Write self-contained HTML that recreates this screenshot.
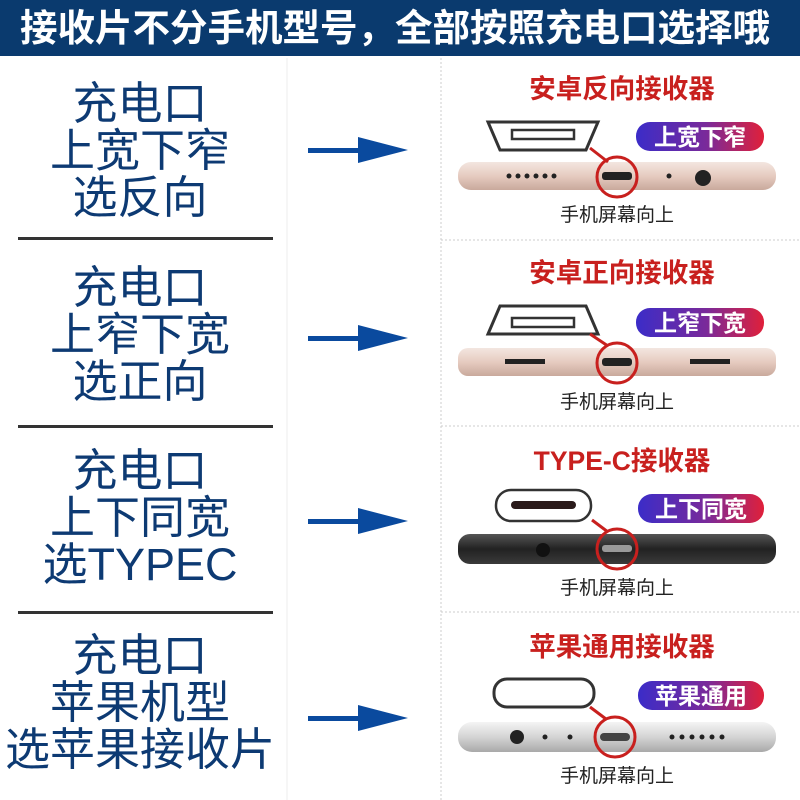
<!DOCTYPE html>
<html><head><meta charset="utf-8"><style>
html,body{margin:0;padding:0;background:#fff;}
svg{display:block}
</style></head><body>
<svg width="800" height="800" viewBox="0 0 800 800" xmlns="http://www.w3.org/2000/svg" font-family="'Liberation Sans','Noto Sans CJK SC',sans-serif">
<defs>
<linearGradient id="pill" x1="0" x2="1" y1="0" y2="0">
<stop offset="0" stop-color="#3b2cc8"/><stop offset="0.55" stop-color="#7a2a9a"/><stop offset="1" stop-color="#e0203a"/></linearGradient>
<linearGradient id="gold" x1="0" x2="0" y1="0" y2="1">
<stop offset="0" stop-color="#f3e6e0"/><stop offset="0.5" stop-color="#e6cbc0"/><stop offset="1" stop-color="#c9a99c"/></linearGradient>
<linearGradient id="dark" x1="0" x2="0" y1="0" y2="1">
<stop offset="0" stop-color="#555"/><stop offset="0.5" stop-color="#222"/><stop offset="1" stop-color="#3a3a3a"/></linearGradient>
<linearGradient id="silver" x1="0" x2="0" y1="0" y2="1">
<stop offset="0" stop-color="#f4f4f4"/><stop offset="0.5" stop-color="#d4d4d4"/><stop offset="1" stop-color="#a9a9a9"/></linearGradient>
</defs>
<rect width="800" height="800" fill="#fff"/>
<rect width="800" height="56" fill="#0a3a6e"/>
<text x="20" y="41" font-size="37.5" font-weight="bold" fill="#fff">接收片不分手机型号，全部按照充电口选择哦</text>

<g fill="#0d3a73" font-size="45" text-anchor="middle">
<text x="140" y="119">充电口</text><text x="140" y="166">上宽下窄</text><text x="140" y="213">选反向</text>
<text x="140" y="303">充电口</text><text x="140" y="350">上窄下宽</text><text x="140" y="397">选正向</text>
<text x="140" y="486">充电口</text><text x="140" y="533">上下同宽</text><text x="140" y="580">选TYPEC</text>
<text x="140" y="671">充电口</text><text x="140" y="718">苹果机型</text><text x="140" y="765">选苹果接收片</text>
</g>
<g fill="#333"><rect x="18" y="237" width="255" height="3"/><rect x="18" y="425" width="255" height="3"/><rect x="18" y="611" width="255" height="3"/></g>

<g fill="#0a4a9e">
<rect x="308" y="148" width="55" height="5"/><polygon points="358,137 408,150 358,163"/>
<rect x="308" y="336" width="55" height="5"/><polygon points="358,325 408,338 358,351"/>
<rect x="308" y="519" width="55" height="5"/><polygon points="358,508 408,521 358,534"/>
<rect x="308" y="716" width="55" height="5"/><polygon points="358,705 408,718 358,731"/>
</g>
<line x1="287" y1="58" x2="287" y2="800" stroke="#eee"/>
<g stroke="#ccc" stroke-dasharray="2,2" fill="none">
<line x1="441" y1="58" x2="441" y2="800"/>
<line x1="441" y1="240" x2="800" y2="240"/><line x1="441" y1="426" x2="800" y2="426"/><line x1="441" y1="612" x2="800" y2="612"/>
</g>

<!-- panel 1 -->
<g transform="translate(0,58)">
<text x="622" y="40" font-size="26.5" font-weight="bold" fill="#c8201e" text-anchor="middle">安卓反向接收器</text>
<polygon points="488,64 598,64 586,92 500,92" fill="#fff" stroke="#333" stroke-width="3"/>
<rect x="512" y="72" width="62" height="9" fill="none" stroke="#333" stroke-width="2.5"/>
<rect x="636" y="64" width="128" height="29" rx="14" fill="url(#pill)"/>
<text x="700" y="87" font-size="23" font-weight="bold" fill="#fff" text-anchor="middle">上宽下窄</text>
<rect x="458" y="104" width="318" height="28" rx="13" fill="url(#gold)"/>
<g fill="#222"><circle cx="509" cy="118" r="2.5"/><circle cx="518" cy="118" r="2.5"/><circle cx="527" cy="118" r="2.5"/><circle cx="536" cy="118" r="2.5"/><circle cx="545" cy="118" r="2.5"/><circle cx="554" cy="118" r="2.5"/><circle cx="669" cy="118" r="2.5"/><circle cx="703" cy="120" r="8"/><rect x="602" y="114" width="30" height="8" rx="3"/></g>
<line x1="590" y1="90" x2="608" y2="104" stroke="#c8201e" stroke-width="3"/>
<circle cx="617" cy="119" r="20" fill="none" stroke="#c8201e" stroke-width="3"/>
<text x="617" y="163" font-size="19" fill="#222" text-anchor="middle">手机屏幕向上</text>
</g>
<!-- panel 2 -->
<g transform="translate(0,242)">
<text x="622" y="40" font-size="26.5" font-weight="bold" fill="#c8201e" text-anchor="middle">安卓正向接收器</text>
<polygon points="500,64 586,64 598,92 488,92" fill="#fff" stroke="#333" stroke-width="3"/>
<rect x="512" y="76" width="62" height="9" fill="none" stroke="#333" stroke-width="2.5"/>
<rect x="636" y="66" width="128" height="29" rx="14" fill="url(#pill)"/>
<text x="700" y="89" font-size="23" font-weight="bold" fill="#fff" text-anchor="middle">上窄下宽</text>
<rect x="458" y="106" width="318" height="28" rx="10" fill="url(#gold)"/>
<g fill="#222"><rect x="505" y="117" width="40" height="5"/><rect x="690" y="117" width="40" height="5"/><rect x="602" y="116" width="30" height="8" rx="3"/></g>
<line x1="590" y1="92" x2="608" y2="104" stroke="#c8201e" stroke-width="3"/>
<circle cx="617" cy="121" r="20" fill="none" stroke="#c8201e" stroke-width="3"/>
<text x="617" y="166" font-size="19" fill="#222" text-anchor="middle">手机屏幕向上</text>
</g>
<!-- panel 3 -->
<g transform="translate(0,428)">
<text x="622" y="42" font-size="26.5" font-weight="bold" fill="#c8201e" text-anchor="middle">TYPE-C接收器</text>
<rect x="496" y="62" width="95" height="31" rx="15" fill="#fff" stroke="#333" stroke-width="2.5"/>
<rect x="511" y="73" width="65" height="8" rx="4" fill="#2a1a1a"/>
<rect x="638" y="66" width="126" height="29" rx="14" fill="url(#pill)"/>
<text x="701" y="89" font-size="23" font-weight="bold" fill="#fff" text-anchor="middle">上下同宽</text>
<rect x="458" y="106" width="318" height="30" rx="12" fill="url(#dark)"/>
<circle cx="543" cy="122" r="7" fill="#111"/>
<rect x="602" y="117" width="30" height="7" rx="3" fill="#999"/>
<line x1="592" y1="92" x2="608" y2="104" stroke="#c8201e" stroke-width="3"/>
<circle cx="617" cy="121" r="20" fill="none" stroke="#c8201e" stroke-width="3"/>
<text x="617" y="166" font-size="19" fill="#222" text-anchor="middle">手机屏幕向上</text>
</g>
<!-- panel 4 -->
<g transform="translate(0,614)">
<text x="622" y="42" font-size="26.5" font-weight="bold" fill="#c8201e" text-anchor="middle">苹果通用接收器</text>
<rect x="494" y="65" width="100" height="28" rx="13" fill="#fff" stroke="#333" stroke-width="3"/>
<rect x="638" y="67" width="126" height="29" rx="14" fill="url(#pill)"/>
<text x="701" y="90" font-size="23" font-weight="bold" fill="#fff" text-anchor="middle">苹果通用</text>
<rect x="458" y="108" width="318" height="30" rx="14" fill="url(#silver)"/>
<g fill="#222"><circle cx="517" cy="123" r="7"/><circle cx="545" cy="123" r="2.5"/><circle cx="570" cy="123" r="2.5"/><circle cx="672" cy="123" r="2.5"/><circle cx="682" cy="123" r="2.5"/><circle cx="692" cy="123" r="2.5"/><circle cx="702" cy="123" r="2.5"/><circle cx="712" cy="123" r="2.5"/><circle cx="722" cy="123" r="2.5"/><rect x="600" y="119" width="30" height="8" rx="4" fill="#444"/></g>
<line x1="590" y1="93" x2="606" y2="105" stroke="#c8201e" stroke-width="3"/>
<circle cx="615" cy="123" r="20" fill="none" stroke="#c8201e" stroke-width="3"/>
<text x="617" y="168" font-size="19" fill="#222" text-anchor="middle">手机屏幕向上</text>
</g>
</svg>
</body></html>
